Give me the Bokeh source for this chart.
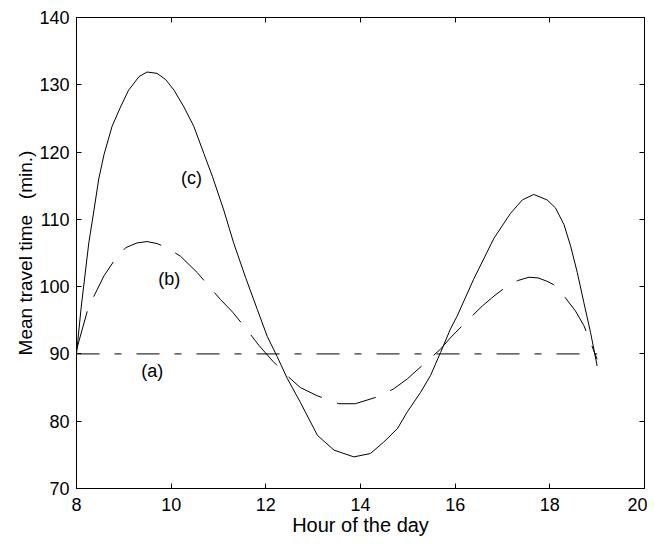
from bokeh.plotting import figure
from bokeh.models import Range1d, FixedTicker, LinearAxis, CustomJSTickFormatter
from bokeh.embed import file_html
from bokeh.resources import INLINE
from bokeh.core.properties import value

# ---- data ----
a_hour = [8.0, 19.0]
a_time = [90.0, 90.0]

b_hour = [8.0, 8.23, 8.37, 8.58, 8.79, 9.04, 9.28, 9.49, 9.70, 9.91, 10.20, 10.55, 10.83, 11.04,
          11.3, 11.6, 11.85, 12.15, 12.49, 12.73, 13.08, 13.54, 13.89, 14.35, 14.70, 14.99, 15.34,
          15.69, 15.90, 16.25, 16.57, 16.82, 17.10, 17.32, 17.56, 17.75, 17.94, 18.08, 18.30, 18.54,
          18.72, 18.86, 19.0]
b_time = [90.6, 96.4, 98.6, 101.6, 103.8, 105.8, 106.5, 106.7, 106.4, 105.8, 104.5, 102.1, 99.8, 98.1,
          96.2, 93.6, 91.3, 88.9, 86.5, 85.0, 83.8, 82.6, 82.6, 83.6, 84.8, 86.3, 88.5,
          90.7, 92.4, 94.9, 97.1, 98.6, 100.1, 100.9, 101.4, 101.3, 100.8, 100.3, 98.6, 96.4,
          94.2, 91.7, 89.2]

c_hour = [8.0, 8.1, 8.26, 8.37, 8.47, 8.58, 8.75, 8.93, 9.10, 9.32, 9.49, 9.70, 9.88, 10.06, 10.27,
          10.48, 10.69, 10.87, 11.11, 11.32, 11.57, 11.82, 12.03, 12.24, 12.45, 12.73, 13.09, 13.44,
          13.86, 14.21, 14.49, 14.78, 14.99, 15.27, 15.48, 15.69, 15.90, 16.04, 16.39, 16.82, 17.17,
          17.42, 17.66, 17.94, 18.12, 18.30, 18.44, 18.58, 18.72, 18.86, 19.0]
c_time = [90.0, 97.0, 106.5, 111.4, 116.0, 119.6, 123.8, 126.7, 129.2, 131.2, 131.9, 131.7, 130.8, 129.2, 126.7,
          123.8, 119.8, 116.4, 111.4, 106.5, 101.4, 96.6, 92.6, 89.6, 86.4, 82.8, 77.9, 75.7,
          74.7, 75.2, 76.9, 78.9, 81.4, 84.3, 86.8, 90.2, 93.7, 95.6, 101.1, 107.2, 110.9,
          112.9, 113.7, 112.9, 111.7, 109.2, 106.0, 102.1, 97.6, 93.2, 88.2]

label_x = [10.43, 9.96, 9.60]
label_y = [116.2, 101.1, 87.5]
label_text = ["(c)", "(b)", "(a)"]

x_ticks = [8, 10, 12, 14, 16, 18, 20]
y_ticks = [70, 80, 90, 100, 110, 120, 130, 140]

FONT = "Liberation Sans"
TICK_SIZE = "18px"

p = figure(width=647, height=538, x_range=Range1d(8, 20), y_range=Range1d(70, 140),
           output_backend="svg", toolbar_location=None,
           min_border_left=76, min_border_right=3, min_border_top=17, min_border_bottom=48)
p.background_fill_color = "white"
p.border_fill_color = "white"
p.outline_line_color = "black"
p.outline_line_width = 1
p.xgrid.visible = False
p.ygrid.visible = False

for ax, ticks in ((p.xaxis[0], x_ticks), (p.yaxis[0], y_ticks)):
    ax.ticker = FixedTicker(ticks=ticks)
    ax.major_tick_in = 5
    ax.major_tick_out = 0
    ax.minor_tick_line_color = None
    ax.axis_line_color = "black"
    ax.major_tick_line_color = "black"
    ax.major_label_text_font = FONT
    ax.major_label_text_font_size = TICK_SIZE
    ax.major_label_text_color = "black"
    ax.axis_label_text_font = FONT
    ax.axis_label_text_font_style = "normal"
    ax.axis_label_text_color = "black"

p.xaxis.axis_label = "Hour of the day"
p.yaxis.axis_label = "Mean travel time\u00a0\u00a0\u00a0(min.)"
p.xaxis.axis_label_text_font_size = "20px"
p.yaxis.axis_label_text_font_size = "19px"
p.xaxis.major_label_standoff = 9
p.yaxis.major_label_standoff = 7
p.xaxis.axis_label_standoff = 0
p.yaxis.axis_label_standoff = 0

blank = CustomJSTickFormatter(code="return ''")
top = LinearAxis(ticker=FixedTicker(ticks=x_ticks), formatter=blank,
                 major_tick_in=5, major_tick_out=0, minor_tick_line_color=None,
                 major_label_standoff=0, major_label_text_font_size="0px")
right = LinearAxis(ticker=FixedTicker(ticks=y_ticks), formatter=blank,
                   major_tick_in=5, major_tick_out=0, minor_tick_line_color=None,
                   major_label_standoff=0, major_label_text_font_size="0px")
p.add_layout(top, "above")
p.add_layout(right, "right")

p.line(a_hour, a_time, line_color="black", line_width=1, line_dash="23 15 7 15")
p.line(b_hour, b_time, line_color="black", line_width=1, line_dash="40 16")
p.line(c_hour, c_time, line_color="black", line_width=1)

p.text(x=label_x, y=label_y, text=label_text, text_font=value(FONT), text_font_size=TICK_SIZE,
       text_align="center", text_baseline="middle", text_color="black")

open("out.html", "w").write(file_html(p, INLINE))
